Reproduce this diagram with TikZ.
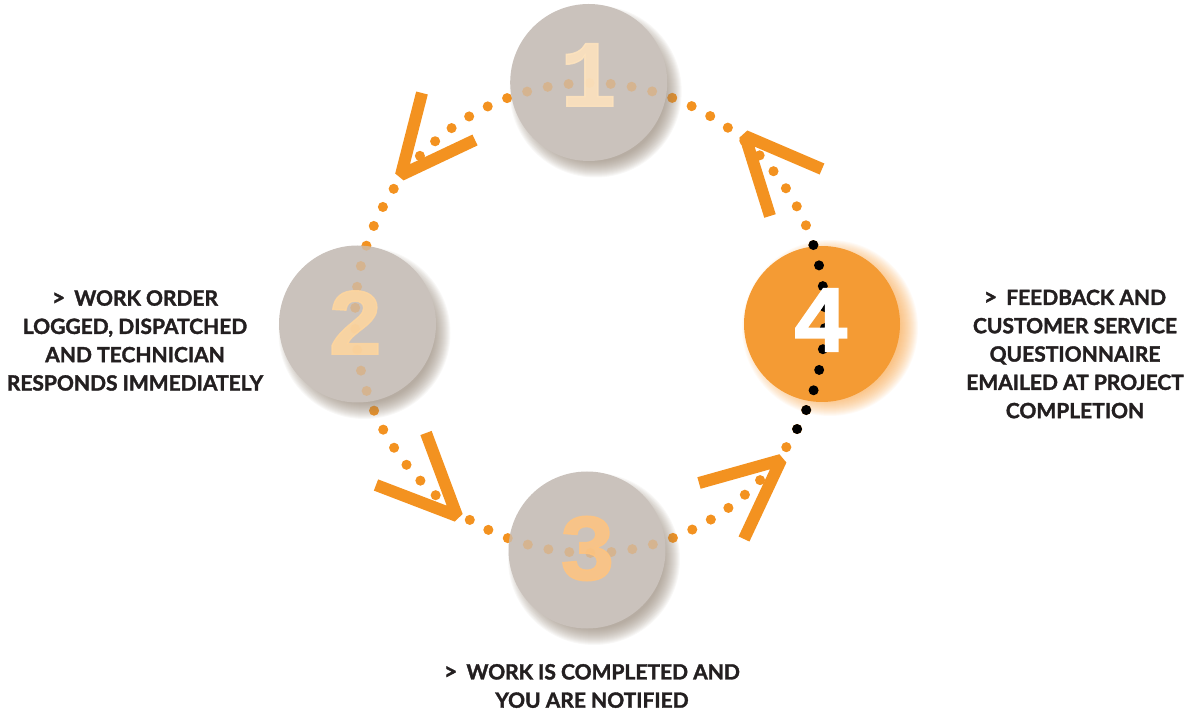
\documentclass[tikz,border=0pt]{standalone}
\usepackage{fontspec}
\setmainfont{Lato}[BoldFeatures={FakeBold=1.6}]
\newfontfamily\numfont{Liberation Mono}[BoldFeatures={FakeBold=1.5}]
\definecolor{dotorange}{HTML}{F39220}
\definecolor{ballgrey}{HTML}{CAC2BC}
\definecolor{ballshadow}{HTML}{8F8070}
\definecolor{ballorange}{HTML}{F49B34}
\definecolor{glowc}{HTML}{F7A040}
\definecolor{txt}{HTML}{231F20}
\definecolor{numa}{HTML}{FFE4BE}
\definecolor{numb}{HTML}{FFD69E}
\definecolor{numc}{HTML}{FFC47F}
\newcommand{\gt}{{\fontsize{23}{28.3}\selectfont>}\hspace{9pt}}
\begin{document}
\begin{tikzpicture}[x=1pt,y=1pt,
    ball/.style={circle,fill=ballgrey,minimum size=157pt,inner sep=0pt},
    hotball/.style={circle,fill=ballorange,minimum size=156pt,inner sep=0pt},
    digit/.style={font=\numfont\bfseries\fontsize{95}{95}\selectfont,inner sep=0pt,opacity=0.85},
    chevron/.style={draw=dotorange,line width=12pt,line join=bevel},
    steptext/.style={font=\bfseries\fontsize{21}{28.3}\selectfont,text=txt,align=center}]
  \useasboundingbox (0,0) rectangle (1187,713);
  \coordinate (ring) at (590,395);
  \coordinate (p1) at (588.7,630.5);
  \coordinate (p2) at (357.5,389);
  \coordinate (p3) at (587,163);
  \coordinate (p4) at (822,389);
  % dotted ring
  \foreach \i in {0,...,69}
    \fill[dotorange] (ring) ++(-28.2+\i*36/7:235) circle (5);
  % soft shadows
  \foreach \n in {1,2,3}
    \foreach \s in {0,...,16}
      \fill[ballshadow,opacity=0.06] ([shift={(7,-9)}]p\n) circle (70+\s);
  \node[ball] (c1) at (p1) {};
  \node[ball] (c2) at (p2) {};
  \node[ball] (c3) at (p3) {};
  % ring seen through the balls
  \foreach \i in {0,...,69}
    \fill[dotorange,opacity=0.28] (ring) ++(-28.2+\i*36/7:235) circle (5);
  % glow and ball 4
  \foreach \s in {0,...,18}
    \fill[glowc,opacity=0.05] ([shift={(8,-4)}]p4) circle (70+\s);
  \node[hotball] (c4) at (p4) {};
  \foreach \i in {0,...,9}
    \fill[black] (ring) ++(-28.2+\i*36/7:235) circle (5);
  % arrowheads
  \draw[chevron] (422,620) -- (401,538) -- (475,573);
  \draw[chevron] (770,497) -- (745,577) -- (822,544);
  \draw[chevron] (426,280) -- (457,197) -- (376,228);
  \draw[chevron] (699,230) -- (781,253) -- (744,174);
  % numbers
  \node[digit,text=numa] (n1) at (588.5,638) {1};
  \node[digit,text=numb] (n2) at (355,390.5) {2};
  \node[digit,text=numc] (n3) at (587,164.5) {3};
  \node[digit,text=white,opacity=1] (n4) at (821,393) {4};
  % captions
  \node[steptext] (t2) at (135,372.5) {\gt WORK ORDER\\LOGGED, DISPATCHED\\AND TECHNICIAN\\RESPONDS IMMEDIATELY};
  \node[steptext] (t4) at (1075,359) {\gt FEEDBACK AND\\CUSTOMER SERVICE\\QUESTIONNAIRE\\EMAILED AT PROJECT\\COMPLETION};
  \node[steptext] (t3) at (592,27) {\gt WORK IS COMPLETED AND\\YOU ARE NOTIFIED};
\end{tikzpicture}
\end{document}
